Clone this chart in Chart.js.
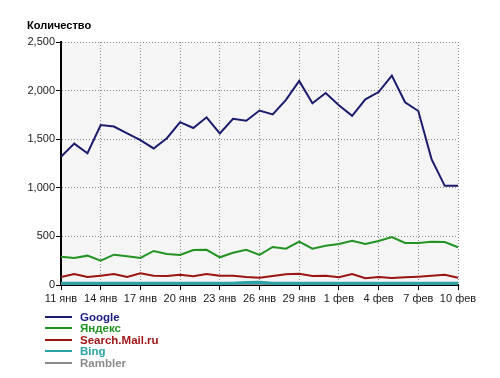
<!DOCTYPE html>
<html>
<head>
<meta charset="utf-8">
<script src="https://cdn.jsdelivr.net/npm/chart.js@4/dist/chart.umd.min.js"></script>
<style>
  body { margin: 0; background: #fff; }
  #wrap { position: relative; width: 500px; height: 378px; }
  #title { position: absolute; left: 27px; top: 19px; font: bold 11px "Liberation Sans", Arial, sans-serif; color: #000; }
  #legendContainer { position: absolute; left: 45px; top: 311px; }
  .legend-item { height: 11.4px; line-height: 11.4px; font: bold 11.5px "Liberation Sans", Arial, sans-serif; white-space: nowrap; }
  .legend-color { display: inline-block; width: 27px; height: 2px; vertical-align: middle; margin-right: 8px; position: relative; top: -1px; }
</style>
</head>
<body>
<div id="wrap">
  <canvas id="trafficChart" width="500" height="378"></canvas>
  <div id="title">Количество</div>
  <div id="legendContainer"></div>
</div>
<script>
// dates on the x axis (every day, labels shown every 3rd)
var days = ['11 янв','12 янв','13 янв','14 янв','15 янв','16 янв','17 янв','18 янв','19 янв','20 янв',
            '21 янв','22 янв','23 янв','24 янв','25 янв','26 янв','27 янв','28 янв','29 янв','30 янв',
            '31 янв','1 фев','2 фев','3 фев','4 фев','5 фев','6 фев','7 фев','8 фев','9 фев','10 фев'];

var google  = [1320,1455,1355,1645,1630,1560,1490,1405,1510,1675,1615,1725,1560,1710,1690,1795,1755,1905,2100,1870,1975,
               1850,1740,1910,1985,2155,1880,1790,1295,1020,1020];
var yandex  = [290,278,302,250,312,295,278,350,319,309,360,362,285,332,362,309,391,374,446,374,404,
               422,456,422,453,494,432,432,446,442,388];
var mailru  = [82,113,82,96,113,82,120,96,93,106,91,113,96,96,82,75,93,110,116,93,96,
               79,113,69,82,72,79,86,96,106,75];
var bing    = [18,18,17,18,18,17,18,18,18,17,18,18,17,18,25,28,18,18,18,17,18,
               18,17,18,18,18,17,18,18,18,18];
var rambler = [4,4,3,4,4,3,4,4,4,3,4,4,3,4,4,4,4,3,4,4,4,
               4,3,4,4,4,3,4,4,4,4];

var yTicks = { min: 0, max: 2500, step: 500 };

var seriesNames  = ['Google', 'Яндекс', 'Search.Mail.ru', 'Bing', 'Rambler'];
var seriesData   = [google, yandex, mailru, bing, rambler];
var lineColors   = ['#1c1c6e', '#229322', '#9a1414', '#2aa3a6', '#8a8a8a'];
var legendColors = ['#1c1c80', '#229322', '#a01818', '#2aa3a6', '#8a8a8a'];
var lineWidths   = [2, 2, 2, 3, 2];

// background of the plot area
var plotBg = {
  id: 'plotBg',
  beforeDraw: function (chart) {
    var a = chart.chartArea, c = chart.ctx;
    c.save();
    c.fillStyle = '#f5f5f5';
    c.fillRect(a.left, a.top, a.right - a.left, a.bottom - a.top);
    c.restore();
  }
};

var datasets = seriesNames.map(function (name, i) {
  return {
    label: name,
    data: seriesData[i],
    borderColor: lineColors[i],
    borderWidth: lineWidths[i],
    pointRadius: 0,
    tension: 0,
    fill: false
  };
});

var ctx = document.getElementById('trafficChart').getContext('2d');
var trafficChart = new Chart(ctx, {
  type: 'line',
  data: { labels: days, datasets: datasets },
  plugins: [plotBg],
  options: {
    responsive: false,
    animation: false,
    locale: 'en-US',
    layout: { padding: { left: 0, right: 42, top: 42, bottom: 73 } },
    plugins: { legend: { display: false }, tooltip: { enabled: false } },
    scales: {
      x: {
        offset: false,
        afterFit: function (s) { s.height = 20; },
        border: { color: '#000', width: 2, dash: [1, 2] },
        grid: {
          color: function (c) { return c.index % 3 === 0 ? '#8c8c8c' : 'rgba(0,0,0,0)'; },
          tickColor: function (c) { return c.index % 3 === 0 ? '#000' : 'rgba(0,0,0,0)'; },
          tickBorderDash: [],
          tickLength: 5,
          lineWidth: 1
        },
        ticks: {
          autoSkip: false,
          maxRotation: 0,
          padding: 2,
          color: '#222',
          font: { family: '"Liberation Sans", Arial, sans-serif', size: 11 },
          callback: function (v, i) { return i % 3 === 0 ? this.getLabelForValue(v) : ''; }
        }
      },
      y: {
        min: yTicks.min,
        max: yTicks.max,
        afterFit: function (s) { s.width = 61; },
        border: { color: '#000', width: 2, dash: [1, 2] },
        grid: {
          color: '#8c8c8c',
          tickColor: '#000',
          tickBorderDash: [],
          tickLength: 5
        },
        ticks: {
          stepSize: yTicks.step,
          padding: 1,
          color: '#222',
          font: { family: '"Liberation Sans", Arial, sans-serif', size: 11 }
        }
      }
    }
  }
});

// legend below the chart
var legendContainer = document.getElementById('legendContainer');
seriesNames.forEach(function (label, index) {
  var legendItem = document.createElement('div');
  legendItem.classList.add('legend-item');
  legendItem.style.color = legendColors[index];
  var legendColor = document.createElement('span');
  legendColor.classList.add('legend-color');
  legendColor.style.backgroundColor = lineColors[index];
  legendItem.appendChild(legendColor);
  legendItem.appendChild(document.createTextNode(label));
  legendContainer.appendChild(legendItem);
});
</script>
</body>
</html>
